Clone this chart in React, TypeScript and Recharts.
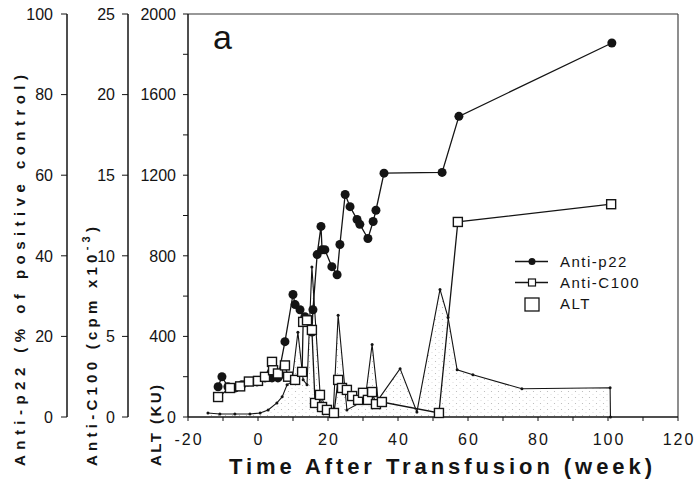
import { ComposedChart, Line, Area, XAxis, YAxis, Legend, ReferenceLine } from 'recharts'

const FONT = '"Liberation Sans", Arial, Helvetica, sans-serif'

// Anti-p22 (% of positive control)
const p22Weeks = [-11.4, -10.3, -8.6, -6.6, -4.6, -2.9, -0.3, 2.0, 4.0, 5.7, 7.7, 10.0, 10.6, 12.0, 13.4, 15.4, 15.7, 16.9, 18.0, 18.3, 19.1, 21.1, 22.6, 23.4, 24.9, 26.3, 28.3, 29.1, 31.4, 32.9, 33.7, 36.0, 52.6, 57.4, 101.1]
const p22Values = [7.5, 10, 7.5, 7.2, 8, 8.7, 8.7, 9.7, 9.7, 9.7, 18.7, 30.4, 27.9, 26.6, 24.9, 21.1, 26.6, 40.3, 47.3, 41.5, 41.5, 37.3, 35.3, 42.8, 55.2, 52.2, 49, 47.8, 44.3, 48.5, 51.3, 60.5, 60.7, 74.6, 92.8]

// Anti-C100 (cpm x10^-3)
const c100Weeks = [-11.4, -8, -5.1, -2.6, 0, 2, 4, 4.3, 5.7, 7.7, 8.6, 10.6, 12.6, 12.9, 14, 15.4, 16.3, 17.7, 18.3, 19.7, 21.7, 22.9, 24, 25.4, 26.9, 28.6, 30, 31.4, 32.6, 33.7, 35.4, 51.7, 57.1, 100.9]
const c100Values = [1.24, 1.8, 1.9, 2.2, 2.24, 2.49, 3.42, 2.9, 2.7, 3.2, 2.5, 2.3, 2.8, 5.9, 6.0, 5.4, 0.87, 1.37, 0.62, 0.44, 0.25, 2.3, 1.8, 1.68, 1.3, 1.06, 1.5, 1.06, 1.55, 0.8, 0.93, 0.25, 12.1, 13.2]

// ALT (KU)
const altWeeks = [-14.3, -10.9, -6.6, -2.3, 0.6, 2.9, 5.4, 6.9, 8.3, 9.7, 11.4, 12.9, 14, 15.4, 17.7, 19.7, 21.5, 22.9, 25.4, 30.6, 32.6, 34.3, 40.6, 45.4, 52, 54.3, 56.9, 61.4, 75.4, 100.6, 100.7]
const altValues = [20, 15, 15, 15, 20, 35, 70, 100, 160, 175, 420, 185, 160, 745, 125, 20, 25, 505, 35, 85, 360, 85, 240, 25, 633, 494, 234, 210, 140, 145, 0]

// minor ticks included, labels only on the majors
const xTicks = [-20, -10, 0, 10, 20, 30, 40, 50, 60, 70, 80, 90, 100, 110, 120]
const p22Ticks = [0, 20, 40, 60, 80, 100]
const c100Ticks = [0, 5, 10, 15, 20, 25]
const altTicks = [0, 200, 400, 600, 800, 1000, 1200, 1400, 1600, 1800, 2000]

const p22Data = p22Weeks.map((week, i) => ({ week, value: p22Values[i] }))
const c100Data = c100Weeks.map((week, i) => ({ week, value: c100Values[i] }))
const altData = altWeeks.map((week, i) => ({ week, value: altValues[i] }))

const INK = '#141414'

function YTick({ x, y, payload, every }: any) {
  if (every && payload.value % every !== 0) return null
  return (
    <text x={x} y={y} dy="0.36em" textAnchor="end" fontSize={16} fill={INK} fontFamily={FONT}>
      {payload.value}
    </text>
  )
}

function XTick({ x, y, payload }: any) {
  if (payload.value % 20 !== 0) return null
  return (
    <text x={x + 1} y={y + 21} textAnchor="middle" fontSize={16} letterSpacing={2} fill={INK} fontFamily={FONT}>
      {payload.value}
    </text>
  )
}

function XTitle() {
  return (
    <text x={229} y={474} fontSize={22} fontWeight="bold" fill={INK} fontFamily={FONT} textLength={423} lengthAdjust="spacing">
      Time After Transfusion (week)
    </text>
  )
}

function YTitle({ bx, len, children }: any) {
  return (
    <text
      x={bx}
      y={466}
      transform={`rotate(-90 ${bx} 466)`}
      fontSize={15}
      fontWeight="bold"
      fill={INK}
      fontFamily={FONT}
      textLength={len}
      lengthAdjust="spacing"
    >
      {children}
    </text>
  )
}

function CircleDot({ cx, cy }: any) {
  if (cx == null || cy == null) return null
  return <circle cx={cx} cy={cy} r={4.5} fill={INK} />
}

function SquareDot({ cx, cy }: any) {
  if (cx == null || cy == null) return null
  return <rect x={cx - 4.5} y={cy - 4.5} width={9} height={9} fill="#fff" stroke={INK} strokeWidth={1.4} />
}

function SmallDot({ cx, cy }: any) {
  if (cx == null || cy == null) return null
  return <circle cx={cx} cy={cy} r={1.5} fill={INK} />
}

function LegendBox() {
  const row = { display: 'flex', alignItems: 'center', height: 21 } as const
  const label = { fontSize: 15, letterSpacing: 1.5, color: INK, fontFamily: FONT }
  return (
    <div>
      <div style={row}>
        <svg width={48} height={21}>
          <line x1={3} x2={36} y1={10.5} y2={10.5} stroke={INK} strokeWidth={1.3} />
          <circle cx={20} cy={10.5} r={3.5} fill={INK} />
        </svg>
        <span style={label}>Anti-p22</span>
      </div>
      <div style={row}>
        <svg width={48} height={21}>
          <line x1={3} x2={36} y1={10.5} y2={10.5} stroke={INK} strokeWidth={1.3} />
          <rect x={16.5} y={7} width={7} height={7} fill="#fff" stroke={INK} strokeWidth={1.2} />
        </svg>
        <span style={label}>Anti-C100</span>
      </div>
      <div style={row}>
        <svg width={48} height={21}>
          <rect x={13} y={5} width={14} height={13} fill="#fff" stroke={INK} strokeWidth={1.3} />
        </svg>
        <span style={label}>ALT</span>
      </div>
    </div>
  )
}

export default function App() {
  return (
    <div style={{ position: 'absolute', left: 0, top: 0, width: 697, height: 480, background: '#fff', fontFamily: FONT }}>
      <ComposedChart width={697} height={480} margin={{ top: 14, right: 19, left: 0, bottom: 0 }}>
        <defs>
          <pattern id="stipple" width={7} height={6} patternUnits="userSpaceOnUse">
            <circle cx={1.5} cy={1.5} r={0.6} fill="#b4b4b4" />
            <circle cx={5} cy={4.5} r={0.5} fill="#cfcfcf" />
          </pattern>
        </defs>
        <XAxis
          dataKey="week"
          type="number"
          domain={[-20, 120]}
          ticks={xTicks}
          allowDuplicatedCategory={false}
          height={63}
          tick={<XTick />}
          tickSize={4}
          tickMargin={3}
          axisLine={{ stroke: INK, strokeWidth: 1.5 }}
          tickLine={{ stroke: INK }}
          label={<XTitle />}
        />
        <YAxis
          yAxisId="p22"
          orientation="left"
          width={67}
          domain={[0, 100]}
          ticks={p22Ticks}
          tick={<YTick />}
          tickSize={6}
          tickMargin={8}
          axisLine={{ stroke: INK, strokeWidth: 1.5 }}
          tickLine={{ stroke: INK }}
          label={<YTitle bx={25} len={391}>Anti-p22 (% of positive control)</YTitle>}
        />
        <YAxis
          yAxisId="c100"
          orientation="left"
          width={61}
          domain={[0, 25]}
          ticks={c100Ticks}
          tick={<YTick />}
          tickSize={6}
          tickMargin={7}
          axisLine={{ stroke: INK, strokeWidth: 1.5 }}
          tickLine={{ stroke: INK }}
          label={
            <YTitle bx={97} len={239}>
              Anti-C100 (cpm x10<tspan dy={-7} fontSize={11}>-3</tspan>
              <tspan dy={7}>)</tspan>
            </YTitle>
          }
        />
        <YAxis
          yAxisId="alt"
          orientation="left"
          width={60}
          domain={[0, 2000]}
          ticks={altTicks}
          tick={<YTick every={400} />}
          tickSize={5}
          tickMargin={7}
          axisLine={{ stroke: INK, strokeWidth: 1.5 }}
          tickLine={{ stroke: INK }}
          label={<YTitle bx={161} len={81}>ALT (KU)</YTitle>}
        />
        <ReferenceLine yAxisId="alt" y={2000} stroke="#333" strokeWidth={1.2} />
        <ReferenceLine yAxisId="alt" x={120} stroke="#444" strokeWidth={1.2} />
        <Area
          yAxisId="alt"
          data={altData}
          dataKey="value"
          type="linear"
          stroke={INK}
          strokeWidth={1.1}
          fill="url(#stipple)"
          fillOpacity={1}
          dot={<SmallDot />}
          activeDot={false}
          isAnimationActive={false}
        />
        <Line
          yAxisId="p22"
          data={p22Data}
          dataKey="value"
          type="linear"
          stroke={INK}
          strokeWidth={1.3}
          dot={<CircleDot />}
          activeDot={false}
          isAnimationActive={false}
        />
        <Line
          yAxisId="c100"
          data={c100Data}
          dataKey="value"
          type="linear"
          stroke={INK}
          strokeWidth={1.3}
          dot={<SquareDot />}
          activeDot={false}
          isAnimationActive={false}
        />
        <Legend
          layout="vertical"
          align="center"
          verticalAlign="middle"
          content={<LegendBox />}
          wrapperStyle={{ left: 512, top: 251, width: 'auto', height: 'auto' }}
        />
      </ComposedChart>
      <div style={{ position: 'absolute', left: 213, top: 17, fontSize: 34, color: INK, fontFamily: FONT, lineHeight: '40px' }}>a</div>
    </div>
  )
}
